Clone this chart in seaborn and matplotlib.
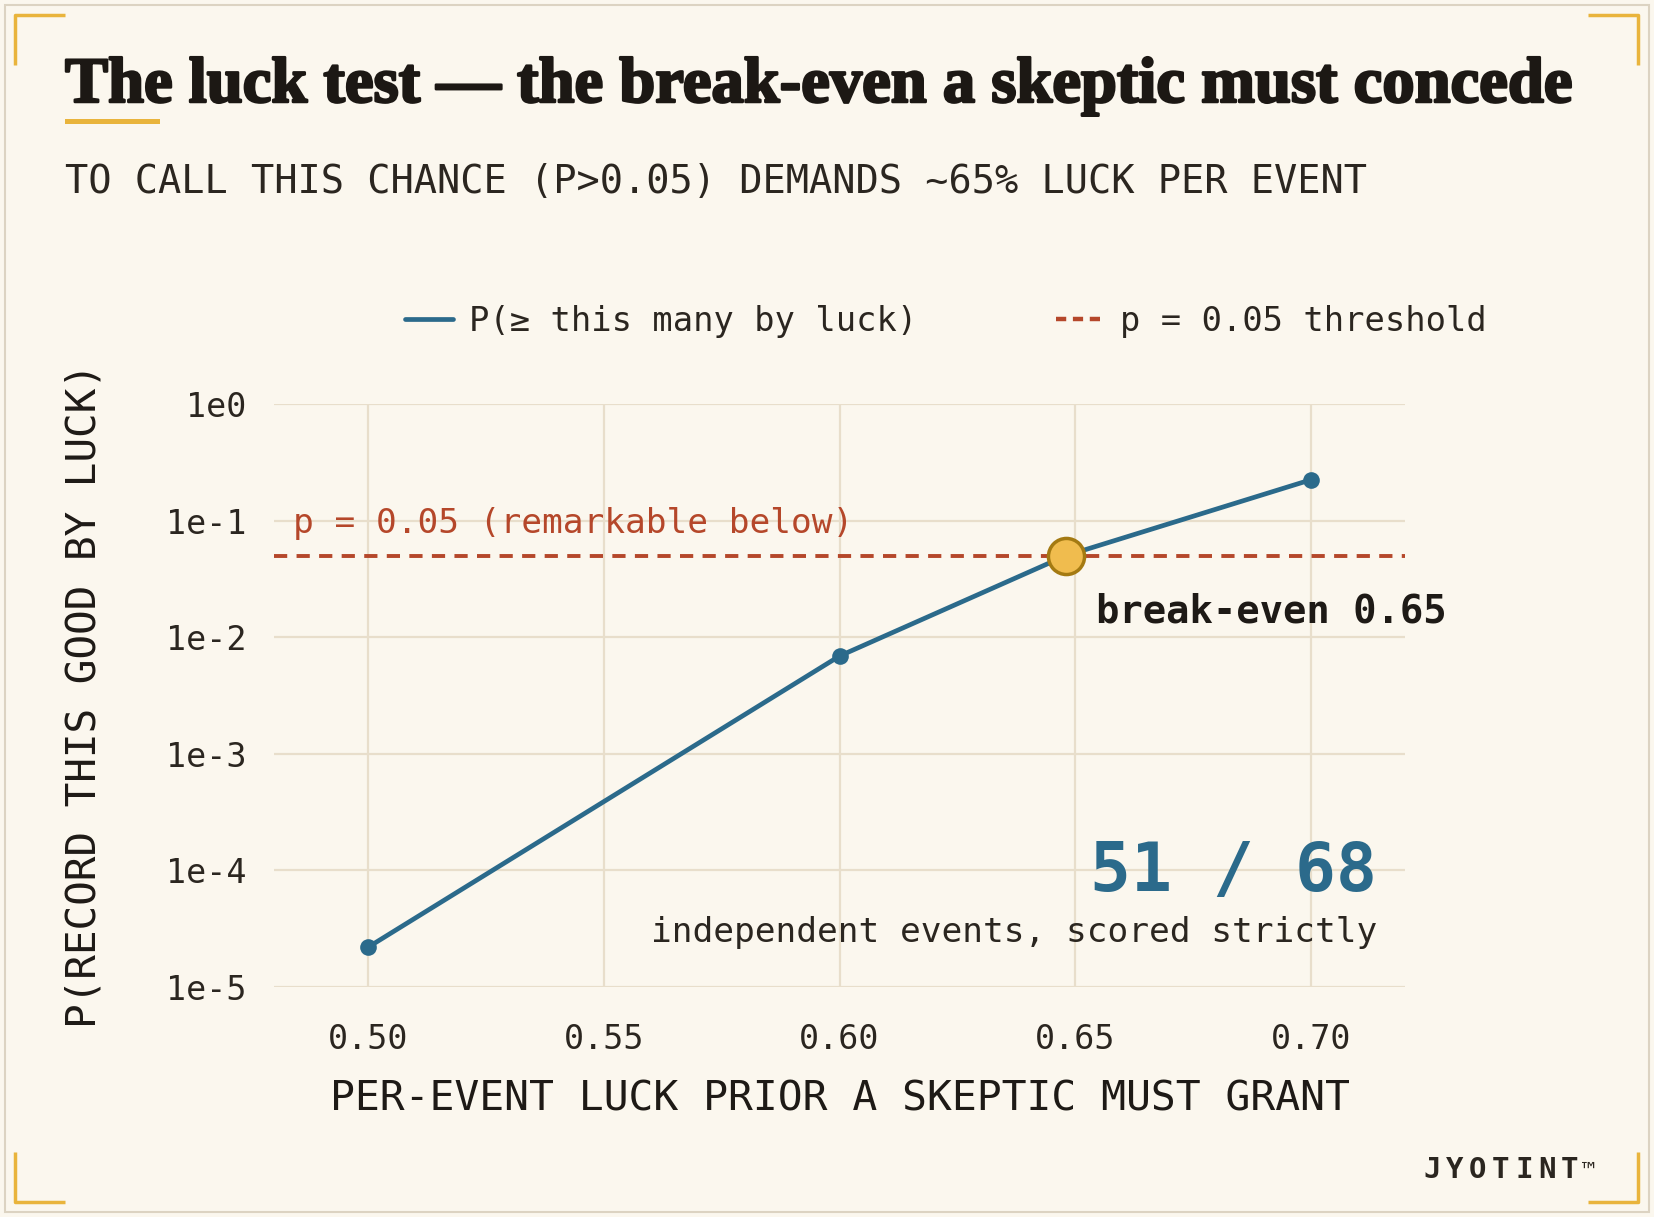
import numpy as np
import pandas as pd
import matplotlib
matplotlib.use("Agg")
import matplotlib.pyplot as plt
import matplotlib.patheffects as pe
from matplotlib.lines import Line2D
from matplotlib.patches import Rectangle
from matplotlib.ticker import FixedLocator, NullLocator
import seaborn as sns

# data
luck = [0.50, 0.60, 0.648, 0.70]
p_luck = [2.2e-5, 6.9e-3, 0.05, 0.224]
threshold = 0.05
break_even = 0.648
x_ticks = [0.50, 0.55, 0.60, 0.65, 0.70]
y_ticks = [1e-5, 1e-4, 1e-3, 1e-2, 1e-1, 1e0]
y_tick_labels = ["1e-5", "1e-4", "1e-3", "1e-2", "1e-1", "1e0"]

BG = "#FBF7EE"
INK = "#2B2620"
BLUE = "#2B6A8B"
RUST = "#B5472A"
GOLD = "#E9B43C"
GRID = "#E8DECB"

sns.set_theme(style="white", rc={"figure.facecolor": BG, "axes.facecolor": BG})
plt.rcParams["font.family"] = ["DejaVu Sans Mono", "DejaVu Sans"]

fig = plt.figure(figsize=(16.54, 12.17), dpi=100)
ax = fig.add_axes([0.1657, 0.189, 0.6838, 0.479])

df = pd.DataFrame({"luck": luck, "p": p_luck})
sns.lineplot(data=df, x="luck", y="p", ax=ax, color=BLUE, lw=3.4,
             marker="o", markersize=12, markeredgewidth=0,
             label="P(\u2265 this many by luck)", zorder=3)
ax.axhline(threshold, color=RUST, lw=2.8, dashes=(3.4, 2.4),
           label="p = 0.05 threshold", zorder=2)
ax.plot([break_even], [threshold], marker="o", markersize=26,
        markerfacecolor="#F0BC4E", markeredgecolor="#A47A12",
        markeredgewidth=2.5, zorder=5, linestyle="none")

ax.set_yscale("log")
ax.set_ylim(1e-5, 1)
ax.set_xlim(0.48, 0.72)
ax.yaxis.set_major_locator(FixedLocator(y_ticks))
ax.yaxis.set_minor_locator(NullLocator())
ax.set_yticklabels(y_tick_labels)
ax.set_xticks(x_ticks)
ax.set_xticklabels([f"{v:.2f}" for v in x_ticks])
ax.grid(True, color=GRID, lw=1.6)
for s in ax.spines.values():
    s.set_visible(False)
ax.tick_params(length=0, labelsize=24, colors=INK, pad=20)
ax.tick_params(axis="x", pad=26)

ax.set_xlabel("PER-EVENT LUCK PRIOR A SKEPTIC MUST GRANT", fontsize=29.8,
              color="#1E1A16", labelpad=17)
ax.set_ylabel("P(RECORD THIS GOOD BY LUCK)", fontsize=29.5,
              color="#1E1A16", labelpad=44)

# annotations
ax.text(0.484, 0.078, "p = 0.05 (remarkable below)", fontsize=24.8,
        color=RUST, va="baseline", ha="left")
ax.text(0.6545, 0.0135, "break-even 0.65", fontsize=28, fontweight="bold",
        color="#1E1A16", va="baseline", ha="left")
ax.text(0.975, 0.165, "51 / 68", transform=ax.transAxes, fontsize=49,
        fontweight="bold", color=BLUE, ha="right", va="baseline")
ax.text(0.975, 0.078, "independent events, scored strictly",
        transform=ax.transAxes, fontsize=24.8, color=INK,
        ha="right", va="baseline")

handles = [Line2D([], [], color=BLUE, lw=3.4),
           Line2D([], [], color=RUST, lw=3.2, dashes=(2.3, 1.5))]
ax.legend(handles, ["P(\u2265 this many by luck)", "p = 0.05 threshold"],
          loc="center", bbox_to_anchor=(0.572, 0.736),
          bbox_transform=fig.transFigure, ncol=2, frameon=False,
          fontsize=24.3, handlelength=1.4, handletextpad=0.5,
          columnspacing=4.1, labelcolor=INK)

# title block
fig.text(65 / 1654, 1 - 102 / 1217,
         "The luck test \u2014 the break-even a skeptic must concede",
         fontsize=46.5, fontweight="bold", family="Liberation Serif",
         color="#1C1814", va="baseline", ha="left",
         path_effects=[pe.withStroke(linewidth=1.8, foreground="#1C1814")])
fig.add_artist(Rectangle((65 / 1654, 1 - 124 / 1217), 95 / 1654, 5 / 1217,
                         transform=fig.transFigure, color=GOLD, lw=0))
fig.text(65 / 1654, 1 - 193 / 1217,
         "TO CALL THIS CHANCE (P>0.05) DEMANDS ~65% LUCK PER EVENT",
         fontsize=27.8, color=INK, va="baseline", ha="left")

# letter-spaced brand mark
brand = "JYOTINT"
step = 23
for i, ch in enumerate(brand):
    fig.text((1423 + i * step) / 1654, 1 - 1178 / 1217, ch, fontsize=21,
             fontweight="bold", color=INK, ha="left", va="baseline")
fig.text((1423 + len(brand) * step - 2) / 1654, 1 - 1178 / 1217, "\u2122",
         fontsize=16, color=INK, ha="left", va="baseline")

# frame and corner brackets
fig.add_artist(Rectangle((5 / 1654, 5 / 1217), 1644 / 1654, 1207 / 1217,
                         transform=fig.transFigure, fill=False,
                         edgecolor="#DCD3C2", lw=1.5))
W, H = 1654, 1217
arm = 50
for cx, cy, dx, dy in [(15, 15, 1, 1), (1638, 15, -1, 1),
                       (15, 1202, 1, -1), (1638, 1202, -1, -1)]:
    xs = [(cx + dx * arm) / W, cx / W, cx / W]
    ys = [1 - cy / H, 1 - cy / H, 1 - (cy + dy * arm) / H]
    fig.add_artist(Line2D(xs, ys, transform=fig.transFigure, color=GOLD,
                          lw=2.5, solid_capstyle="butt"))

fig.savefig("out.png", dpi=100, facecolor=BG)
